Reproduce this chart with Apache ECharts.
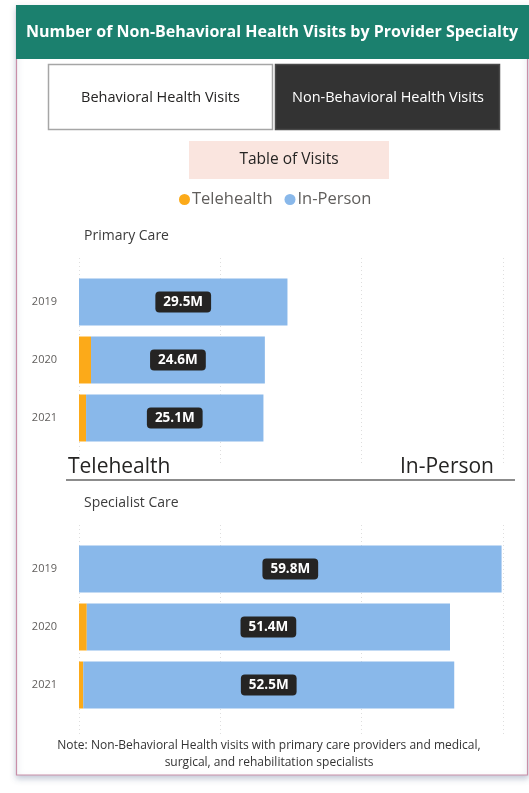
<!DOCTYPE html>
<html>
<head>
<meta charset="utf-8">
<script src="https://cdn.jsdelivr.net/npm/echarts@6/dist/echarts.min.js"></script>
<style>
html,body{margin:0;padding:0;background:#fff;}
#c{width:529px;height:793px;}
</style>
</head>
<body>
<div id="c"></div>
<script>
var years = ['2019', '2020', '2021'];
var primaryTele = [0, 1.7, 1.0];
var primaryInPerson = [29.5, 24.6, 25.1];
var specialistTele = [0, 1.1, 0.6];
var specialistInPerson = [59.8, 51.4, 52.5];
var xTicks = [0, 20, 40, 60];

var FONT = '"Open Sans", "DejaVu Sans", sans-serif';
var chart = echarts.init(document.getElementById('c'), null, {renderer: 'canvas'});

function gridAxis(idx) {
  return {
    type: 'value', gridIndex: idx, min: xTicks[0], max: xTicks[xTicks.length - 1],
    interval: xTicks[1] - xTicks[0],
    axisLabel: {show: false}, axisLine: {show: false}, axisTick: {show: false},
    splitLine: {show: idx % 2 === 0, lineStyle: {color: '#dedede', type: [1, 3], width: 1}}
  };
}
function catAxis(idx, show) {
  return {
    type: 'category', gridIndex: idx, data: years, inverse: true,
    axisLine: {show: false}, axisTick: {show: false},
    axisLabel: {show: show, color: '#605e5c', fontSize: 11, fontFamily: FONT, margin: 22},
    splitLine: {show: false}
  };
}
var labelCfg = {
  show: true, position: 'inside',
  formatter: function (p) { return p.value.toFixed(1) + 'M'; },
  color: '#ffffff', fontWeight: 'bold', fontSize: 13.5, fontFamily: FONT,
  backgroundColor: '#252423', borderRadius: 4, padding: [4, 8, 3, 8]
};

var option = {
  animation: false,
  backgroundColor: '#ffffff',
  legend: {
    top: 186, left: 174, itemGap: 12, itemWidth: 11, itemHeight: 11,
    icon: 'circle',
    textStyle: {color: '#605e5c', fontSize: 16.5, fontFamily: FONT, padding: [0, 0, 0, -3]},
    data: ['Telehealth', 'In-Person']
  },
  grid: [
    {left: 79, right: 26, top: 258, height: 208},
    {left: 79, right: 26, top: 273, height: 174},
    {left: 79, right: 26, top: 525, height: 209},
    {left: 79, right: 26, top: 540, height: 174}
  ],
  xAxis: [gridAxis(0), gridAxis(1), gridAxis(2), gridAxis(3)],
  yAxis: [catAxis(0, false), catAxis(1, true), catAxis(2, false), catAxis(3, true)],
  series: [
    {name: 'Telehealth', type: 'bar', stack: 'p', xAxisIndex: 1, yAxisIndex: 1, data: primaryTele,
      barWidth: 47, itemStyle: {color: '#fcaa19'}},
    {name: 'In-Person', type: 'bar', stack: 'p', xAxisIndex: 1, yAxisIndex: 1, data: primaryInPerson,
      barWidth: 47, itemStyle: {color: '#89b8ea'}, label: labelCfg},
    {name: 'Telehealth', type: 'bar', stack: 's', xAxisIndex: 3, yAxisIndex: 3, data: specialistTele,
      barWidth: 47, itemStyle: {color: '#fcaa19'}},
    {name: 'In-Person', type: 'bar', stack: 's', xAxisIndex: 3, yAxisIndex: 3, data: specialistInPerson,
      barWidth: 47, itemStyle: {color: '#89b8ea'}, label: labelCfg}
  ],
  graphic: [
    {type: 'rect', z: -10, shape: {x: 16.5, y: 5.5, width: 511, height: 769.5},
      style: {fill: '#ffffff', stroke: '#c98fa8', lineWidth: 1.2,
        shadowBlur: 6, shadowOffsetY: 3, shadowColor: 'rgba(80,100,140,0.35)'}},
    {type: 'rect', z: -5, shape: {x: 16, y: 5, width: 513, height: 54}, style: {fill: '#1b806e'}},
    {type: 'text', z: 5, x: 272, y: 32, style: {text: 'Number of Non-Behavioral Health Visits by Provider Specialty',
      fill: '#ffffff', font: 'bold 16px ' + FONT, align: 'center', verticalAlign: 'middle'}},
    {type: 'rect', z: 5, shape: {x: 48.5, y: 64.5, width: 224, height: 65}, style: {fill: '#ffffff', stroke: '#a6a6a6', lineWidth: 1.5}},
    {type: 'text', z: 6, x: 160.5, y: 98, style: {text: 'Behavioral Health Visits', fill: '#252423', font: '14.5px ' + FONT, align: 'center', verticalAlign: 'middle'}},
    {type: 'rect', z: 5, shape: {x: 275.5, y: 64.5, width: 224, height: 65}, style: {fill: '#333333', stroke: '#4a4a4a', lineWidth: 1.5}},
    {type: 'text', z: 6, x: 388, y: 98, style: {text: 'Non-Behavioral Health Visits', fill: '#ffffff', font: '14.5px ' + FONT, align: 'center', verticalAlign: 'middle'}},
    {type: 'rect', z: 5, shape: {x: 189, y: 141, width: 200, height: 38}, style: {fill: '#fae5df'}},
    {type: 'text', z: 6, x: 289, y: 160, style: {text: 'Table of Visits', fill: '#252423', font: '15.5px ' + FONT, align: 'center', verticalAlign: 'middle'}},
    {type: 'text', z: 6, x: 84, y: 236, style: {text: 'Primary Care', fill: '#3c3c3c', font: '14px ' + FONT, verticalAlign: 'middle'}},
    {type: 'text', z: 6, x: 84, y: 503, style: {text: 'Specialist Care', fill: '#3c3c3c', font: '14px ' + FONT, verticalAlign: 'middle'}},
    {type: 'text', z: 6, x: 68, y: 467, style: {text: 'Telehealth', fill: '#252423', font: '21px ' + FONT, verticalAlign: 'middle'}},
    {type: 'text', z: 6, x: 494, y: 467, style: {text: 'In-Person', fill: '#252423', font: '21px ' + FONT, align: 'right', verticalAlign: 'middle'}},
    {type: 'line', z: 6, shape: {x1: 66, y1: 480, x2: 515, y2: 480}, style: {stroke: '#8c8c8c', lineWidth: 2}},
    {type: 'text', z: 6, x: 269, y: 746, style: {text: 'Note: Non-Behavioral Health visits with primary care providers and medical,', fill: '#333333', font: '12px ' + FONT, align: 'center', verticalAlign: 'middle'}},
    {type: 'text', z: 6, x: 269, y: 763, style: {text: 'surgical, and rehabilitation specialists', fill: '#333333', font: '12px ' + FONT, align: 'center', verticalAlign: 'middle'}}
  ]
};
chart.setOption(option);
</script>
</body>
</html>
